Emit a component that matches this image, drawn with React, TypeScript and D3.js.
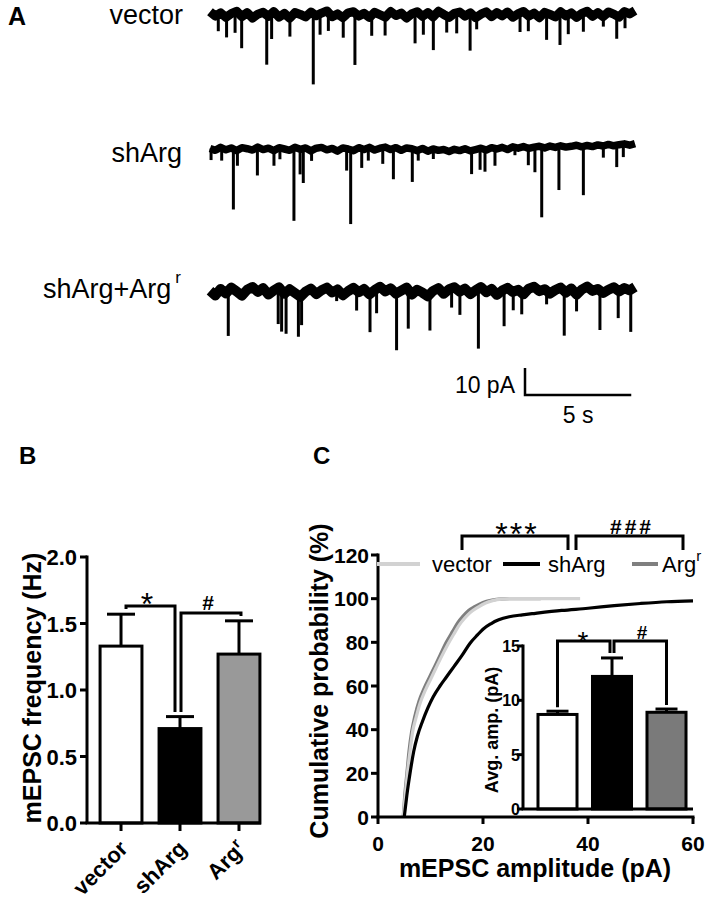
import { useEffect, useRef } from 'react';
import * as d3 from 'd3';

// ---- Panel A: event lists, [time (s), amplitude (pA)] ----
const vectorEvents: [number, number][] = [
  [0.39, 6.8], [0.78, 7.4], [1.18, 8.0], [1.49, 11.7], [2.67, 17.9], [2.9, 10.2],
  [3.76, 6.8], [4.86, 26.8], [5.18, 8.0], [5.57, 7.4], [6.27, 7.4], [6.82, 19.7],
  [7.61, 6.8], [8.24, 6.8], [9.65, 11.7], [10.04, 6.8], [10.51, 12.3], [11.14, 5.6],
  [11.61, 7.4], [12.24, 14.0], [12.55, 4.3], [14.59, 6.8], [14.98, 5.6], [15.84, 10.2],
  [16.47, 12.3], [16.86, 6.8], [17.57, 6.8], [18.51, 3.7], [19.14, 8.0], [19.53, 6.2],
];
const shArgEvents: [number, number][] = [
  [0.05, 4.3], [0.55, 4.9], [1.1, 22.8], [1.29, 5.6], [2.23, 10.5], [3.01, 5.6],
  [3.29, 4.3], [3.95, 27.2], [4.24, 9.3], [4.39, 13.0], [4.78, 3.7], [6.43, 8.0],
  [6.62, 27.8], [7.14, 6.8], [7.45, 4.9], [8.13, 6.2], [8.63, 11.7], [9.52, 12.3],
  [9.8, 3.7], [10.51, 3.7], [12.31, 8.6], [12.71, 8.0], [12.94, 8.0], [13.41, 6.2],
  [14.35, 3.1], [14.98, 6.2], [15.29, 9.3], [15.61, 26.3], [16.42, 16.4], [17.57, 17.9],
  [18.51, 4.3], [19.14, 8.3], [19.45, 4.9],
];
const rescueEvents: [number, number][] = [
  [0.86, 15.7], [3.21, 13.6], [3.37, 16.4], [3.58, 14.8], [4.16, 14.8], [4.31, 10.5],
  [5.96, 4.3], [6.9, 6.8], [7.53, 14.0], [7.84, 8.6], [8.78, 21.0], [9.33, 15.2],
  [10.35, 12.7], [11.37, 6.8], [11.76, 8.6], [12.63, 22.8], [13.84, 13.2], [14.27, 6.8],
  [14.67, 7.4], [15.84, 5.6], [16.67, 16.0], [17.25, 6.2], [18.35, 15.2], [19.21, 9.9],
  [19.8, 15.4],
];
// baseline holding current across the 20 s sweep (pA, relative, evenly spaced)
const vectorNoise = [
  1.2, -0.4, 0.8, -0.9, 0.5, 1.4, -0.6, 0.9, -1.1, 0.3, 1.0, -0.5, 1.3, -0.8, 0.6, -1.2,
  0.9, 0.2, -0.7, 1.1, -0.3, 0.7, 1.5, -0.6, 0.4, -1.0, 0.8, 1.2, -0.4, 0.6, -0.9, 1.0,
  0.1, -0.8, 1.3, -0.2, 0.7, -1.1, 0.5, 1.2, -0.5, 0.9, -0.7, 1.4, 0.2, -0.9, 0.6, 1.1,
  -0.4, 0.8, -1.0, 0.3, 1.2, -0.6, 0.9, -0.3, 1.1, -0.8, 0.5, 1.3, -0.4, 0.7, -1.0, 1.0,
  0.2, -0.7, 1.2, -0.3, 0.8, -0.9, 0.6, 1.4, -0.5, 0.9, -0.6, 1.1, 0.3, -0.8, 1.3, 0.4, 1.6,
];
const shArgNoise = [
  0.2, -0.5, 0.6, -0.3, 0.4, -0.6, 0.5, 0.1, -0.4, 0.7, -0.2, 0.3, -0.6, 0.5, 0.0, -0.5,
  0.6, -0.1, 0.4, -0.7, 0.3, 0.6, -0.3, 0.2, -0.8, 0.4, 0.0, -0.6, 0.5, -0.2, 0.6, -0.4,
  0.3, 0.7, -0.2, 0.5, -0.5, 0.4, 0.1, -0.6, 0.2, -0.8, 0.0, -0.5, -0.2, -0.9, -0.1, -0.6,
  0.1, -0.7, -0.2, 0.3, -0.4, 0.5, 0.0, 0.6, -0.2, 0.8, 0.3, 0.9, 0.2, 0.7, 1.0, 0.4,
  1.1, 0.6, 1.2, 0.7, 1.0, 1.4, 0.8, 1.3, 0.9, 1.5, 1.1, 1.7, 1.2, 1.6, 1.9, 1.4, 2.0,
];
const rescueNoise = [
  0.8, -0.9, 1.5, -0.2, 2.0, 0.6, -1.0, 1.2, 2.2, 0.4, 1.8, -0.6, 0.9, 2.1, -0.3, 1.4,
  0.0, -1.4, 0.5, 1.6, -0.4, 1.0, 2.0, 0.2, 1.3, -0.8, 0.7, 1.9, 0.3, 1.5, -0.5, 1.1,
  2.3, 0.6, 1.7, -0.2, 0.9, 2.0, -0.6, 1.2, 0.1, -1.2, 0.8, 1.8, -0.3, 1.4, 2.1, 0.5,
  1.6, -0.4, 1.0, 2.2, 0.3, 1.5, -0.7, 0.9, 1.9, 0.4, 1.2, -0.5, 1.6, 2.3, 0.7, 1.4,
  -0.2, 1.1, 2.0, 0.2, 1.7, -0.6, 1.3, 2.4, 0.8, 1.5, 0.0, 1.2, 2.1, 0.6, 1.8, 1.0, 2.2,
];
const sweepSec = 20;
const scaleBarPA = 10;
const scaleBarSec = 5;

// ---- Panel B: mEPSC frequency ----
const groups = ['vector', 'shArg', 'Argr'];
const freqMean = [1.33, 0.71, 1.27];
const freqSem = [0.24, 0.09, 0.25];
const freqTicks = [0, 0.5, 1, 1.5, 2];

// ---- Panel C: cumulative amplitude distributions ----
const vectorCdfX = [4.8, 5.2, 5.6, 6.1, 6.6, 7.3, 8, 9, 10, 11, 12, 13.3, 14.5, 15.5, 16.5, 17.5, 19, 20.5, 22, 23.5, 25, 30, 38.5];
const vectorCdfY = [0, 10, 20, 30, 39, 46, 52, 58, 63, 68, 73, 79, 84, 88, 91, 93.5, 96, 98, 99.2, 99.8, 100, 100, 100];
const argCdfX = [4.8, 5.1, 5.5, 5.9, 6.4, 7, 7.8, 8.8, 9.8, 10.8, 11.8, 13, 14.2, 15.2, 16.2, 17.2, 18.5, 20, 21.5, 23, 25, 31];
const argCdfY = [0, 10, 20, 30, 39, 46, 53, 59, 64, 69, 74, 80, 85, 89, 92, 94.5, 96.5, 98.3, 99.3, 99.8, 100, 100];
const shArgCdfX = [5, 5.5, 6.1, 6.8, 7.5, 8.5, 9.5, 10.5, 11.8, 13, 14.5, 16, 17.5, 19, 20, 21.5, 23, 25, 27.5, 30, 35, 40, 45, 50, 55, 60];
const shArgCdfY = [0, 10, 20, 30, 37, 44, 50, 55, 60, 64, 69, 74, 79.5, 83.5, 86, 88.5, 90.3, 91.7, 92.6, 93.3, 94.6, 95.6, 96.8, 97.8, 98.6, 99];
const cdfXTicks = [0, 20, 40, 60];
const cdfYTicks = [0, 20, 40, 60, 80, 100, 120];

// inset: average amplitude
const ampMean = [8.7, 12.2, 8.9];
const ampSem = [0.3, 1.7, 0.3];
const ampTicks = [0, 5, 10, 15];

const FONT = "'Liberation Sans', Arial, Helvetica, sans-serif";

export default function App() {
  const svgRef = useRef<SVGSVGElement>(null);

  useEffect(() => {
    if (!svgRef.current) return;
    const svg = d3.select(svgRef.current);
    svg.selectAll('*').remove();
    svg.style('font-family', FONT);

    svg.append('rect').attr('width', 707).attr('height', 900).attr('fill', '#fff');

    // === A: traces ===
    svg.append('text').attr('x', 8).attr('y', 25)
      .attr('font-size', 25).attr('font-weight', 'bold').text('A');

    const tx = d3.scaleLinear().domain([0, sweepSec]).range([210, 635]);
    const traces = [
      { events: vectorEvents, noise: vectorNoise, base: 15, band: 9 },
      { events: shArgEvents, noise: shArgNoise, base: 149, band: 7.5 },
      { events: rescueEvents, noise: rescueNoise, base: 293, band: 10 },
    ];
    traces.forEach((tr) => {
      const ty = d3.scaleLinear().domain([0, -scaleBarPA]).range([tr.base, tr.base + 27]);
      const step = sweepSec / (tr.noise.length - 1);
      const noiseAt = (t: number) => {
        const i = Math.min(tr.noise.length - 1, Math.round(t / step));
        return tr.noise[i];
      };
      const line = d3.line<number>()
        .x((_, i) => tx(i * step))
        .y((v) => ty(v));
      svg.append('path')
        .attr('d', line(tr.noise))
        .attr('fill', 'none')
        .attr('stroke', '#000')
        .attr('stroke-width', tr.band)
        .attr('stroke-linejoin', 'round')
        .attr('stroke-linecap', 'butt');
      svg.append('g').selectAll('line')
        .data(tr.events)
        .enter()
        .append('line')
        .attr('x1', (d) => tx(d[0])).attr('x2', (d) => tx(d[0]))
        .attr('y1', (d) => ty(noiseAt(d[0])))
        .attr('y2', (d) => ty(noiseAt(d[0]) - d[1]))
        .attr('stroke', '#000')
        .attr('stroke-width', 3);
    });

    const traceText = (x: number, y: number, s: string) =>
      svg.append('text').attr('x', x).attr('y', y).attr('text-anchor', 'end')
        .attr('font-size', 27).text(s);
    traceText(183, 24, 'vector');
    traceText(182, 162, 'shArg');
    const resc = svg.append('text').attr('x', 43).attr('y', 298).attr('font-size', 27);
    resc.append('tspan').text('shArg+Arg');
    resc.append('tspan').attr('dx', 4).attr('dy', -15).attr('font-size', 17).text('r');

    // scale bar
    const sbX = 525;
    const sbY = 395;
    const sbW = tx(scaleBarSec) - tx(0);
    const sbH = 27;
    svg.append('path')
      .attr('d', `M${sbX},${sbY - sbH}V${sbY}H${sbX + sbW}`)
      .attr('fill', 'none').attr('stroke', '#000').attr('stroke-width', 2.5);
    svg.append('text').attr('x', sbX - 10).attr('y', sbY - 2).attr('text-anchor', 'end')
      .attr('font-size', 23).text(`${scaleBarPA} pA`);
    svg.append('text').attr('x', sbX + sbW / 2).attr('y', 423).attr('text-anchor', 'middle')
      .attr('font-size', 23).text(`${scaleBarSec} s`);

    // === B: frequency bars ===
    svg.append('text').attr('x', 19).attr('y', 464)
      .attr('font-size', 24).attr('font-weight', 'bold').text('B');

    const bx = d3.scaleBand<string>().domain(groups).range([93, 267])
      .paddingInner(0.29).paddingOuter(0.12);
    const by = d3.scaleLinear().domain([0, 2]).range([823, 557]);
    const fills = ['#ffffff', '#000000', '#999999'];
    const gB = svg.append('g');

    // error bars (upper only)
    groups.forEach((gname, i) => {
      const cx = bx(gname)! + bx.bandwidth() / 2;
      gB.append('line').attr('x1', cx).attr('x2', cx)
        .attr('y1', by(freqMean[i])).attr('y2', by(freqMean[i] + freqSem[i]))
        .attr('stroke', '#000').attr('stroke-width', 3);
      gB.append('line').attr('x1', cx - 14).attr('x2', cx + 14)
        .attr('y1', by(freqMean[i] + freqSem[i])).attr('y2', by(freqMean[i] + freqSem[i]))
        .attr('stroke', '#000').attr('stroke-width', 3);
    });
    gB.selectAll('rect.bar')
      .data(groups)
      .enter()
      .append('rect')
      .attr('class', 'bar')
      .attr('x', (d) => bx(d)!)
      .attr('y', (_, i) => by(freqMean[i]))
      .attr('width', bx.bandwidth())
      .attr('height', (_, i) => by(0) - by(freqMean[i]))
      .attr('fill', (_, i) => fills[i])
      .attr('stroke', '#000')
      .attr('stroke-width', 3);

    // axes
    gB.append('line').attr('x1', 87).attr('x2', 87).attr('y1', by(2) - 1.5).attr('y2', by(0))
      .attr('stroke', '#000').attr('stroke-width', 3);
    gB.append('line').attr('x1', 85.5).attr('x2', 261).attr('y1', by(0)).attr('y2', by(0))
      .attr('stroke', '#000').attr('stroke-width', 3);
    freqTicks.forEach((t) => {
      gB.append('line').attr('x1', 80).attr('x2', 87).attr('y1', by(t)).attr('y2', by(t))
        .attr('stroke', '#000').attr('stroke-width', 3);
      gB.append('text').attr('x', 77).attr('y', by(t) + 8).attr('text-anchor', 'end')
        .attr('font-size', 22).attr('font-weight', 'bold').text(d3.format('.1f')(t));
    });
    groups.forEach((gname) => {
      const cx = bx(gname)! + bx.bandwidth() / 2;
      gB.append('line').attr('x1', cx).attr('x2', cx).attr('y1', by(0)).attr('y2', by(0) + 8)
        .attr('stroke', '#000').attr('stroke-width', 3);
      const lbl = gB.append('text')
        .attr('transform', `translate(${cx + 8},850) rotate(-45)`)
        .attr('text-anchor', 'end')
        .attr('font-size', 22).attr('font-weight', 'bold');
      if (gname === 'Argr') {
        lbl.append('tspan').text('Arg');
        lbl.append('tspan').attr('dy', -8).attr('font-size', 15).text('r');
      } else {
        lbl.text(gname);
      }
    });
    gB.append('text')
      .attr('transform', `translate(41,688) rotate(-90)`)
      .attr('text-anchor', 'middle')
      .attr('font-size', 25).attr('font-weight', 'bold')
      .text('mEPSC frequency (Hz)');

    // significance brackets
    const c0 = bx(groups[0])! + bx.bandwidth() / 2;
    const c1 = bx(groups[1])! + bx.bandwidth() / 2;
    const c2 = bx(groups[2])! + bx.bandwidth() / 2;
    gB.append('path')
      .attr('d', `M${c0 + 5},${609}V606H${c1 - 5}V${712}`)
      .attr('fill', 'none').attr('stroke', '#000').attr('stroke-width', 3);
    gB.append('path')
      .attr('d', `M${c1 + 1},712V613H${c2 + 2}V${616}`)
      .attr('fill', 'none').attr('stroke', '#000').attr('stroke-width', 3);
    gB.append('text').attr('x', 147).attr('y', 615).attr('text-anchor', 'middle')
      .attr('font-size', 32).text('*');
    gB.append('text').attr('x', 208).attr('y', 610).attr('text-anchor', 'middle')
      .attr('font-size', 21).attr('font-weight', 'bold').text('#');

    // === C: cumulative probability ===
    svg.append('text').attr('x', 313).attr('y', 464)
      .attr('font-size', 24).attr('font-weight', 'bold').text('C');

    const cx = d3.scaleLinear().domain([0, 60]).range([378, 693]);
    const cy = d3.scaleLinear().domain([0, 120]).range([817, 555]);
    const gC = svg.append('g');

    const cdfLine = d3.line<[number, number]>()
      .x((d) => cx(d[0])).y((d) => cy(d[1]))
      .curve(d3.curveMonotoneX);
    const series = [
      { xs: argCdfX, ys: argCdfY, color: '#7f7f7f' },
      { xs: vectorCdfX, ys: vectorCdfY, color: '#d2d2d2' },
      { xs: shArgCdfX, ys: shArgCdfY, color: '#000000' },
    ];
    series.forEach((s) => {
      const pts = s.xs.map((x, i) => [x, s.ys[i]] as [number, number]);
      gC.append('path').attr('d', cdfLine(pts)).attr('fill', 'none')
        .attr('stroke', s.color).attr('stroke-width', 3.2);
    });

    // axes
    gC.append('line').attr('x1', cx(0)).attr('x2', cx(0)).attr('y1', cy(120) - 1.5).attr('y2', cy(0))
      .attr('stroke', '#000').attr('stroke-width', 3);
    gC.append('line').attr('x1', cx(0) - 1.5).attr('x2', cx(60) + 1.5).attr('y1', cy(0)).attr('y2', cy(0))
      .attr('stroke', '#000').attr('stroke-width', 3);
    cdfYTicks.forEach((t) => {
      gC.append('line').attr('x1', cx(0) - 7).attr('x2', cx(0)).attr('y1', cy(t)).attr('y2', cy(t))
        .attr('stroke', '#000').attr('stroke-width', 3);
      gC.append('text').attr('x', 369).attr('y', cy(t) + 7.5).attr('text-anchor', 'end')
        .attr('font-size', 21).attr('font-weight', 'bold').text(t);
    });
    cdfXTicks.forEach((t) => {
      gC.append('line').attr('x1', cx(t)).attr('x2', cx(t)).attr('y1', cy(0)).attr('y2', cy(0) + 7)
        .attr('stroke', '#000').attr('stroke-width', 3);
      gC.append('text').attr('x', cx(t)).attr('y', 851).attr('text-anchor', 'middle')
        .attr('font-size', 21).attr('font-weight', 'bold').text(t);
    });
    gC.append('text').attr('x', 535).attr('y', 877).attr('text-anchor', 'middle')
      .attr('font-size', 25).attr('font-weight', 'bold').text('mEPSC amplitude (pA)');
    gC.append('text')
      .attr('transform', `translate(328,681) rotate(-90)`)
      .attr('text-anchor', 'middle')
      .attr('font-size', 25).attr('font-weight', 'bold')
      .text('Cumulative probability (%)');

    // legend
    const legend = [
      { x0: 377, x1: 420, tx: 432, color: '#d2d2d2', name: 'vector', sup: false },
      { x0: 503, x1: 540, tx: 548, color: '#000000', name: 'shArg', sup: false },
      { x0: 632, x1: 658, tx: 662, color: '#7f7f7f', name: 'Arg', sup: true },
    ];
    legend.forEach((l) => {
      gC.append('line').attr('x1', l.x0).attr('x2', l.x1).attr('y1', 564).attr('y2', 564)
        .attr('stroke', l.color).attr('stroke-width', 4);
      const t = gC.append('text').attr('x', l.tx).attr('y', 572).attr('font-size', 22);
      t.append('tspan').text(l.name);
      if (l.sup) t.append('tspan').attr('dy', -11).attr('font-size', 15).text('r');
    });

    // brackets above legend
    gC.append('path').attr('d', 'M462,550V536H568V550')
      .attr('fill', 'none').attr('stroke', '#000').attr('stroke-width', 3);
    gC.append('path').attr('d', 'M576,550V536H683V550')
      .attr('fill', 'none').attr('stroke', '#000').attr('stroke-width', 3);
    gC.append('text').attr('x', 517).attr('y', 545).attr('text-anchor', 'middle')
      .attr('font-size', 32).attr('letter-spacing', 2).text('***');
    gC.append('text').attr('x', 632).attr('y', 534).attr('text-anchor', 'middle')
      .attr('font-size', 21).attr('font-weight', 'bold').attr('letter-spacing', 3).text('###');

    // inset bars
    const ix = d3.scaleBand<string>().domain(groups).range([523, 701])
      .paddingInner(0.284).paddingOuter(0.275);
    const iy = d3.scaleLinear().domain([0, 15]).range([809, 646]);
    const ifills = ['#ffffff', '#000000', '#7a7a7a'];
    const gI = svg.append('g');
    groups.forEach((gname, i) => {
      const mx = ix(gname)! + ix.bandwidth() / 2;
      gI.append('line').attr('x1', mx).attr('x2', mx)
        .attr('y1', iy(ampMean[i])).attr('y2', iy(ampMean[i] + ampSem[i]))
        .attr('stroke', '#000').attr('stroke-width', 3);
      gI.append('line').attr('x1', mx - 11).attr('x2', mx + 11)
        .attr('y1', iy(ampMean[i] + ampSem[i])).attr('y2', iy(ampMean[i] + ampSem[i]))
        .attr('stroke', '#000').attr('stroke-width', 3);
    });
    gI.selectAll('rect.ibar')
      .data(groups)
      .enter()
      .append('rect')
      .attr('class', 'ibar')
      .attr('x', (d) => ix(d)!)
      .attr('y', (_, i) => iy(ampMean[i]))
      .attr('width', ix.bandwidth())
      .attr('height', (_, i) => iy(0) - iy(ampMean[i]))
      .attr('fill', (_, i) => ifills[i])
      .attr('stroke', '#000')
      .attr('stroke-width', 3);
    gI.append('line').attr('x1', 523).attr('x2', 523).attr('y1', iy(15) - 1.5).attr('y2', iy(0))
      .attr('stroke', '#000').attr('stroke-width', 3);
    gI.append('line').attr('x1', 521.5).attr('x2', 693).attr('y1', iy(0)).attr('y2', iy(0))
      .attr('stroke', '#000').attr('stroke-width', 3);
    ampTicks.forEach((t) => {
      gI.append('line').attr('x1', 517).attr('x2', 523).attr('y1', iy(t)).attr('y2', iy(t))
        .attr('stroke', '#000').attr('stroke-width', 3);
      gI.append('text').attr('x', 520).attr('y', iy(t) + 6).attr('text-anchor', 'end')
        .attr('font-size', 16).attr('font-weight', 'bold').text(t);
    });
    gI.append('text')
      .attr('transform', `translate(498,730) rotate(-90)`)
      .attr('text-anchor', 'middle')
      .attr('font-size', 18).attr('font-weight', 'bold')
      .text('Avg. amp. (pA)');

    const m0 = ix(groups[0])! + ix.bandwidth() / 2;
    const m1 = ix(groups[1])! + ix.bandwidth() / 2;
    const m2 = ix(groups[2])! + ix.bandwidth() / 2;
    const top0 = iy(ampMean[0] + ampSem[0]) - 4;
    const top1 = iy(ampMean[1] + ampSem[1]) - 5;
    const top2 = iy(ampMean[2] + ampSem[2]) - 4;
    gI.append('path').attr('d', `M${m0},${top0}V641H${m1 - 2}V${top1}`)
      .attr('fill', 'none').attr('stroke', '#000').attr('stroke-width', 3);
    gI.append('path').attr('d', `M${m1 + 2},${top1}V641H${m2}V${top2}`)
      .attr('fill', 'none').attr('stroke', '#000').attr('stroke-width', 3);
    gI.append('text').attr('x', 583).attr('y', 651).attr('text-anchor', 'middle')
      .attr('font-size', 28).text('*');
    gI.append('text').attr('x', 642).attr('y', 639).attr('text-anchor', 'middle')
      .attr('font-size', 19).attr('font-weight', 'bold').text('#');
  }, []);

  return (
    <svg
      ref={svgRef}
      width={707}
      height={900}
      style={{ position: 'absolute', left: 0, top: 0, display: 'block' }}
    />
  );
}
